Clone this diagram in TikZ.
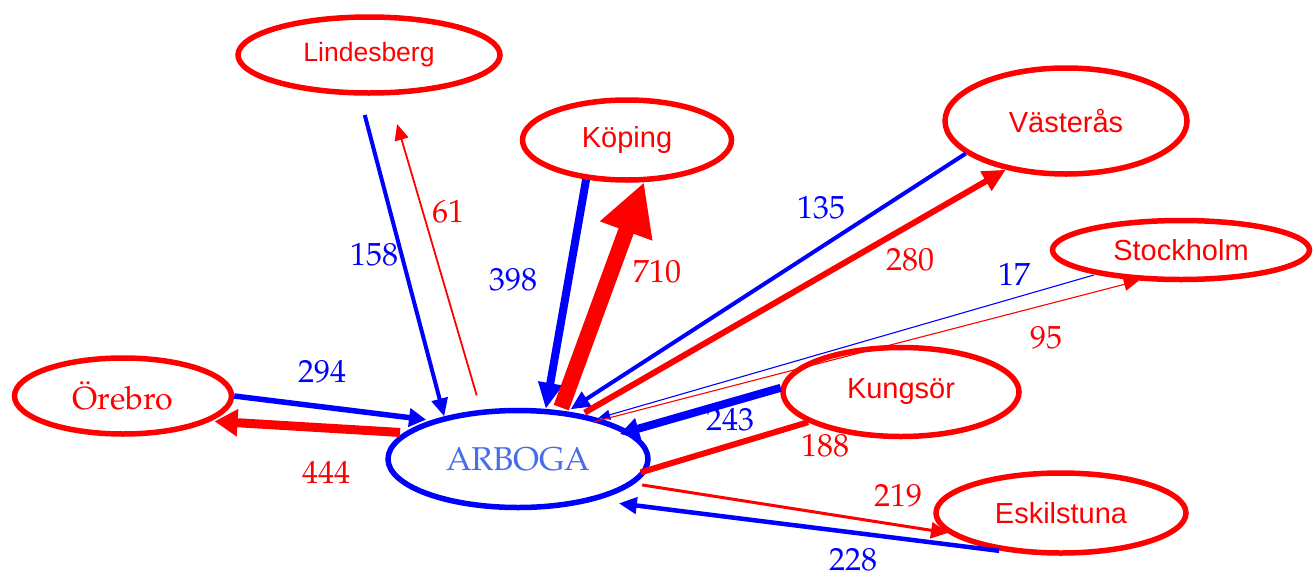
\documentclass[tikz,border=0pt]{standalone}
\usepackage{fontspec}
\newfontfamily\palfont{TeX Gyre Pagella}
\newfontfamily\arialfont{Liberation Sans}
\usetikzlibrary{arrows.meta,shapes.geometric}
\definecolor{R}{RGB}{255,0,0}
\definecolor{B}{RGB}{0,0,255}
\definecolor{ArbText}{RGB}{70,110,235}
\newcommand\seriflab{\palfont\fontsize{32}{38}\selectfont}
\newcommand\sanslab{\arialfont\fontsize{29}{34}\selectfont}
\newcommand\sanssmall{\arialfont\fontsize{26.5}{32}\selectfont}
\tikzset{
  city/.style={ellipse, draw=R, line width=5.5pt, inner sep=0pt, text=R, font=\sanslab},
  hub/.style={ellipse, draw=B, line width=5.5pt, inner sep=0pt, text=ArbText, font=\seriflab},
  numr/.style={inner sep=0pt, text=R, font=\seriflab},
  numb/.style={inner sep=0pt, text=B, font=\seriflab},
  bl/.style={draw=B},
  rd/.style={draw=R},
}
\begin{document}
\begin{tikzpicture}[x=1pt,y=-1pt]
\useasboundingbox (0,0) rectangle (1315,581);
% nodes
\node[city, font=\sanssmall, minimum width=262pt, minimum height=76pt] (lind) at (369,55) {Lindesberg};
\node[city, minimum width=209pt, minimum height=80pt] (kop) at (627,140) {Köping};
\node[city, minimum width=242pt, minimum height=106pt] (vas) at (1066,121) {Västerås};
\node[city, minimum width=257pt, minimum height=59pt] (sto) at (1181,250) {Stockholm};
\node[city, minimum width=236pt, minimum height=89pt] (kung) at (901,392) {Kungsör};
\node[city, minimum width=250pt, minimum height=80pt] (esk) at (1061,513) {Eskilstuna};
\node[city, font=\seriflab, minimum width=217pt, minimum height=76pt] (ore) at (123,396) {Örebro};
\node[hub, font=\palfont\fontsize{33}{38}\selectfont, minimum width=260pt, minimum height=97pt] (arb) at (518,459) {ARBOGA};
% connectors
\draw[bl, line width=4pt, -{Triangle[length=18pt,width=16pt]}, shorten <=20pt] (lind.-103) -- (arb.150.7);
\draw[rd, line width=1.8pt, -{Triangle[length=16pt,width=14pt]}, shorten <=15pt, shorten >=30pt] (arb.127.6) -- (lind.-64.8);
\draw[bl, line width=8pt, -{Triangle[length=26pt,width=23pt]}] (kop.-136.4) -- (arb.61.1);
\draw[rd, line width=16pt, -{Triangle[length=52pt,width=52pt]}, shorten <=3pt] (arb.49.1) -- (kop.-68.2);
\draw[bl, line width=4pt, -{Triangle[length=19pt,width=17pt]}, shorten >=4pt] (vas.-162.7) -- (arb.44.4);
\draw[rd, line width=6pt, -{Triangle[length=23pt,width=21pt]}, shorten <=3pt] (arb.35) -- (vas.-141.5);
\draw[bl, line width=1.1pt, -{Triangle[length=12pt,width=10pt]}, shorten <=2pt] (sto.-164.1) -- (arb.27.5);
\draw[rd, line width=1.1pt, -{Triangle[length=15pt,width=13pt]}, shorten <=-10pt] (arb.25.9) -- (sto.-144);
\draw[bl, line width=8pt, -{Triangle[length=19pt,width=21pt]}, shorten >=-10pt] (kung.178) -- (arb.14.6);
\draw[rd, line width=6pt, shorten <=-7pt] (arb.-5.2) -- (kung.-162.6);
\draw[rd, line width=3pt, -{Triangle[length=17pt,width=16pt]}, shorten <=8pt] (arb.-12.9) -- (esk.-170.5);
\draw[bl, line width=4.5pt, -{Triangle[length=18pt,width=16pt]}, shorten <=10pt, shorten >=23pt] (esk.-143.6) -- (arb.-28.6);
\draw[bl, line width=5.5pt, -{Triangle[length=17pt,width=18pt]}, shorten >=5pt] (ore.0.5) -- (arb.156.2);
\draw[rd, line width=9pt, -{Triangle[length=23pt,width=26pt]}, shorten <=4pt, shorten >=4pt] (arb.167.9) -- (ore.-16.7);
% labels
\node[numb] (n158) at (374,255) {158};
\node[numr] (n61) at (448,212) {61};
\node[numb] (n398) at (513,280) {398};
\node[numr] (n710) at (657,272) {710};
\node[numb] (n135) at (821,208) {135};
\node[numr] (n280) at (910,260) {280};
\node[numb] (n17) at (1014,274) {17};
\node[numr] (n95) at (1046,338) {95};
\node[numb] (n243) at (730,420) {243};
\node[numr] (n188) at (825,446) {188};
\node[numr] (n219) at (898,496) {219};
\node[numb] (n228) at (853,560) {228};
\node[numb] (n294) at (322,372) {294};
\node[numr] (n444) at (326,472) {444};
\end{tikzpicture}
\end{document}
